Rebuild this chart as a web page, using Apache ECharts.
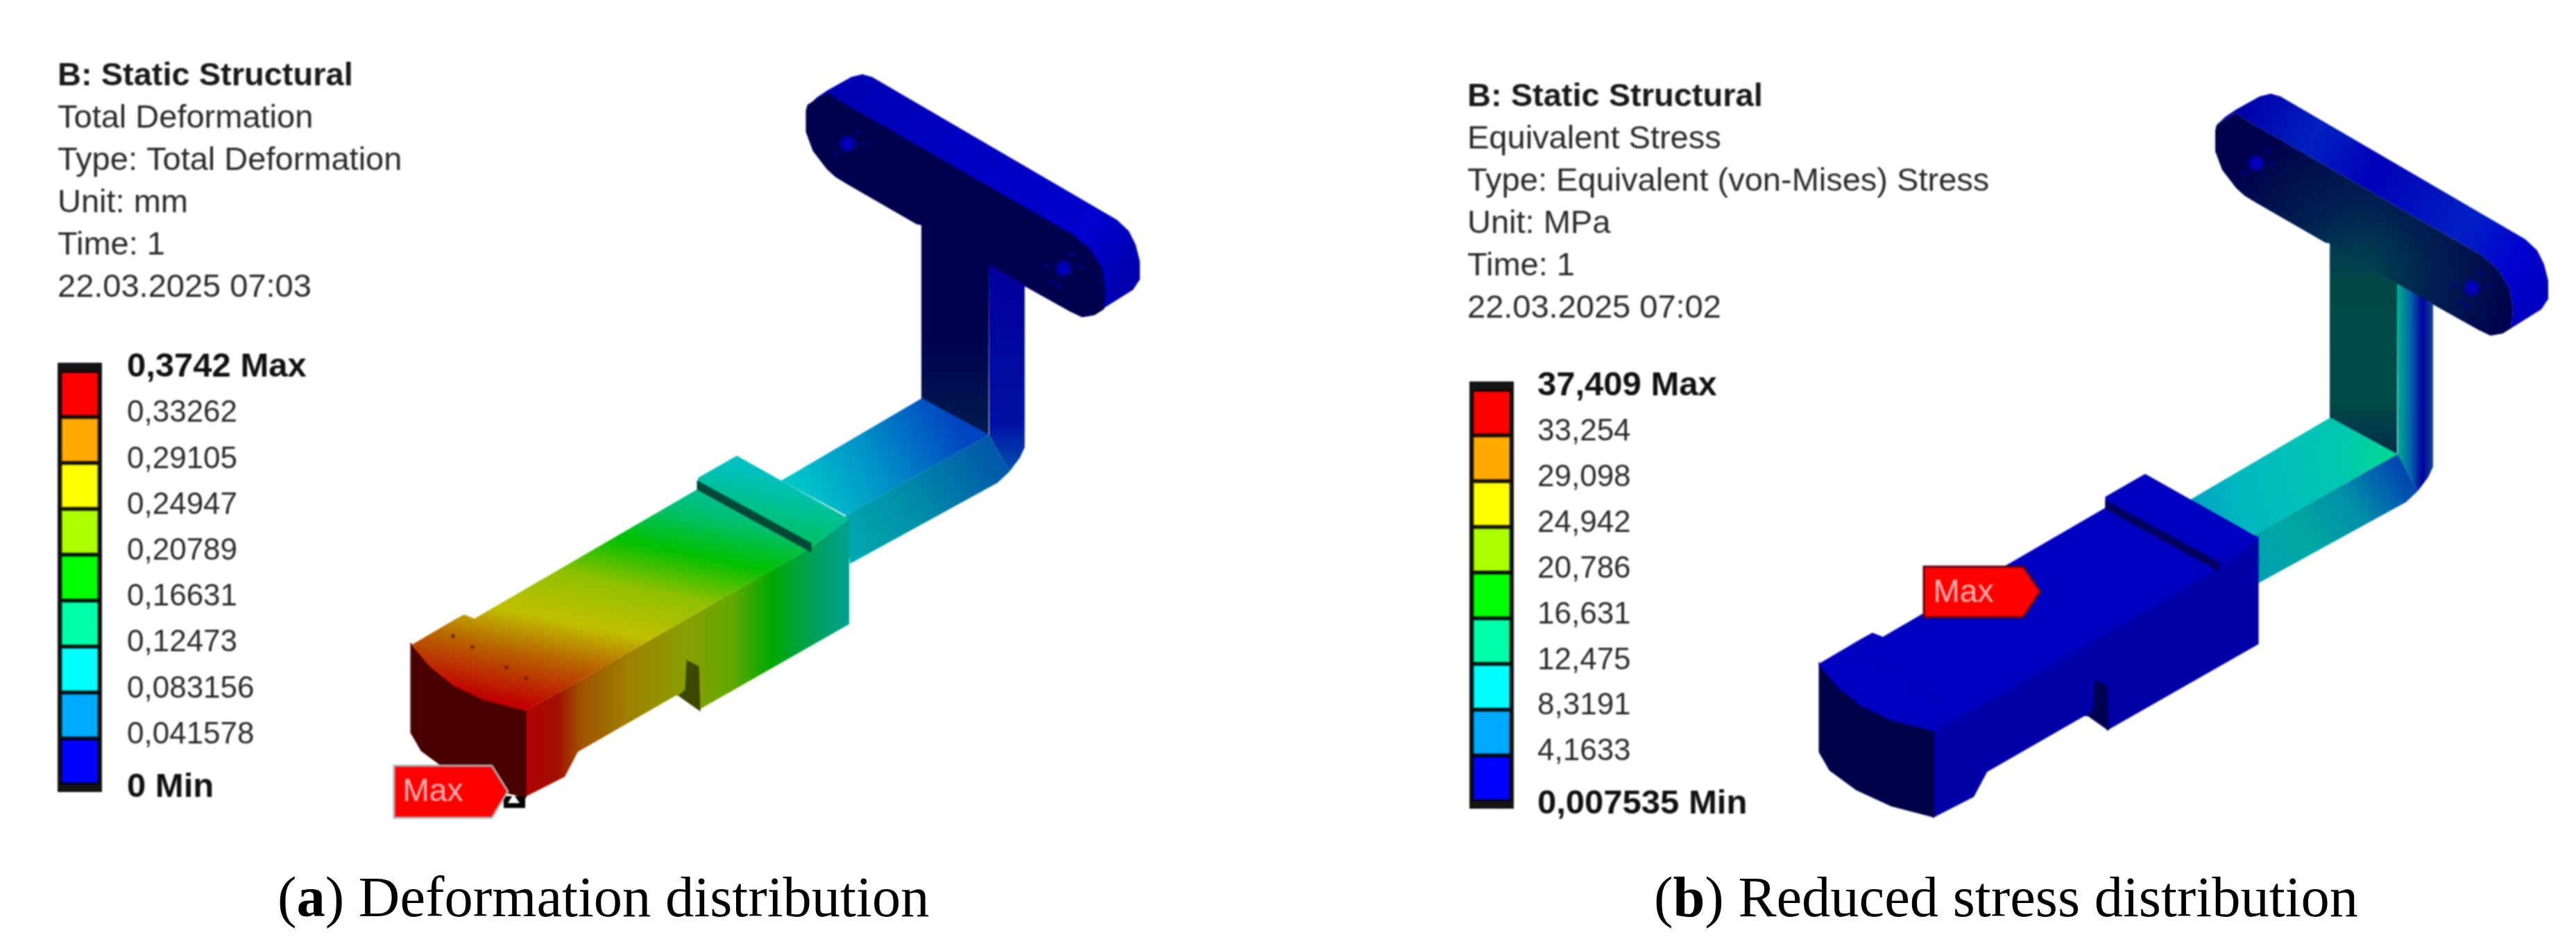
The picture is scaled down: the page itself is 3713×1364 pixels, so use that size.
<!DOCTYPE html>
<html>
<head>
    <meta charset="UTF-8">
    <title>Deformation and stress distribution</title>
    <script src="https://cdn.jsdelivr.net/npm/echarts@6/dist/echarts.min.js"></script>
    <style>
        html, body { margin: 0; background: #fff; }
        #chart, #captions { position: absolute; left: 0; top: 0; width: 3713px; height: 1364px; }
        /* the simulation screenshots are soft in the original, the captions are not */
        #chart { filter: blur(1.3px); }
    </style>
</head>
<body>
<div id="chart"></div>
<div id="captions"></div>
<script>
    // contour scale of each result
    const deformLevels = [0, 0.041578, 0.083156, 0.12473, 0.16631, 0.20789, 0.24947, 0.29105, 0.33262, 0.3742];
    const deformLabels = ['0 Min', '0,041578', '0,083156', '0,12473', '0,16631', '0,20789', '0,24947', '0,29105', '0,33262', '0,3742 Max'];
    const stressLevels = [0.007535, 4.1633, 8.3191, 12.475, 16.631, 20.786, 24.942, 29.098, 33.254, 37.409];
    const stressLabels = ['0,007535 Min', '4,1633', '8,3191', '12,475', '16,631', '20,786', '24,942', '29,098', '33,254', '37,409 Max'];
    const bandColors = ['#0000ff', '#00aaff', '#00ffff', '#00ffaa', '#00ff00', '#aaff00', '#ffff00', '#ffaa00', '#ff0000'];

    // part outline in model units (same for both panels)
    const barTop = [[1165, 152], [1178, 140], [1193, 130], [1227, 111], [1243, 107], [1257, 111], [1610, 317], [1627, 333], [1637, 353], [1643, 377], [1643, 403], [1633, 418], [1590, 445], [1592, 417], [1587, 387], [1570, 360], [1547, 340], [1207, 145], [1193, 135]];
    const barFront = [[1165, 152], [1193, 135], [1207, 145], [1547, 340], [1570, 360], [1587, 387], [1592, 417], [1590, 445], [1577, 453], [1560, 456], [1543, 448], [1425, 382], [1328, 323], [1322, 322], [1223, 265], [1205, 254], [1193, 243], [1173, 217], [1163, 190], [1163, 160]];
    const stemFront = [[1328, 322], [1425, 381], [1425, 627], [1328, 575]];
    const stemSide = [[1425, 381], [1477, 410], [1477, 645], [1470, 660], [1455, 680], [1426, 627]];
    const armTop = [[1329, 574], [1426, 627], [1219, 743], [1126, 693]];
    const armSide = [[1426, 627], [1455, 680], [1438, 696], [1225, 813], [1219, 743]];
    const blockSide = [[757, 1025], [829, 985], [1168, 790], [1224, 748], [1224, 900], [1008, 1023], [1006, 962], [991, 954], [989, 995], [980, 1003], [974, 1003], [833, 1084], [814, 1120], [757, 1149]];
    const notch = [[991, 954], [1006, 962], [1008, 1023], [980, 1003], [989, 995]];
    const frontFace = [[593, 930], [620, 962], [654, 989], [696, 1009], [757, 1025], [757, 1149], [696, 1133], [646, 1110], [608, 1082], [593, 1056]];
    const blockTop = [[593, 930], [654, 894], [669, 886], [684, 892], [694, 886], [1006, 705], [1006, 689], [1062, 657], [1126, 693], [1224, 748], [1168, 790], [829, 985], [757, 1025], [696, 1009], [654, 989], [620, 962]];
    const slot = [[1006, 695], [1168, 784], [1168, 794], [1006, 705]];
    const holes = [[1222, 207], [1533, 387]];
    const holeDots = [[1237, 190], [1245, 207], [1205, 222], [1545, 367], [1508, 383], [1557, 385], [1518, 407], [1527, 414]];
    const faceDots = [[653, 917], [681, 933], [730, 962], [758, 978]];
    const maxFlagA = [[568, 1104], [709, 1104], [732, 1141], [709, 1179], [568, 1179]];
    const maxFlagB = [[743, 789], [886, 789], [911, 825], [886, 862], [743, 862]];
    const maxProbeBox = [[726, 1148], [757, 1148], [757, 1165], [726, 1165]];
    const maxProbeMark = [[740, 1145], [749, 1158], [732, 1158]];
    const maxTextA = [[624, 1142]];
    const maxTextB = [[800, 827]];

    const fillsA = {
        barTop: {from: [1200, 110], to: [1640, 420], stops: [[0, '#0000b4'], [0.8, '#0000d0'], [1, '#0000a8']]},
        barFront: '#00004e',
        stemFront: {from: [1380, 480], to: [1380, 620], stops: [[0, '#00004e'], [1, '#001a50']]},
        stemSide: {from: [1450, 400], to: [1450, 680], stops: [[0, '#00009c'], [0.75, '#0010a4'], [1, '#0050b0']]},
        armTop: {from: [1370, 590], to: [1160, 710], stops: [[0, '#0044c0'], [0.55, '#0090c8'], [1, '#00c4c8']]},
        armSide: {from: [1430, 650], to: [1225, 790], stops: [[0, '#0058a8'], [0.6, '#0090a8'], [1, '#00a8b0']]},
        blockSide: {from: [757, 1000], to: [1224, 1000], stops: [[0, '#b00000'], [0.1, '#a01000'], [0.17, '#a05000'], [0.32, '#a08000'], [0.5, '#88a000'], [0.64, '#60a800'], [0.76, '#00a800'], [0.9, '#00a060'], [1, '#00a090']]},
        notch: '#3c4800',
        frontFace: '#480000',
        blockTop: {from: [900, 1048], to: [982, 657], stops: [[0, '#c00000'], [0.18, '#b86000'], [0.33, '#c0c000'], [0.5, '#90c000'], [0.66, '#00c000'], [0.81, '#00c070'], [1, '#00c0c0']]},
        slot: '#004838'
    };
    const fillsB = {
        barTop: {from: [1200, 130], to: [1640, 380], stops: [[0, '#0000a8'], [0.22, '#0020c0'], [0.42, '#0000b8'], [0.72, '#0020c4'], [0.9, '#0000d0'], [1, '#0000c0']]},
        barFront: {center: [1370, 370], r: 230, stops: [[0, '#004850'], [0.45, '#002050'], [1, '#00004c']]},
        stemFront: {from: [1380, 320], to: [1380, 620], stops: [[0, '#003850'], [0.2, '#004848'], [0.75, '#004c48'], [1, '#00304c']]},
        stemSide: {from: [1425, 500], to: [1477, 500], stops: [[0, '#00b090'], [0.4, '#0060a8'], [0.7, '#0000a0'], [1, '#104890']]},
        armTop: {center: [1420, 630], r: 330, stops: [[0, '#00d890'], [0.25, '#00c8b0'], [0.7, '#00b8c0'], [1, '#0098c4']]},
        armSide: {from: [1430, 650], to: [1225, 790], stops: [[0, '#0048b0'], [0.35, '#0090a8'], [0.7, '#00a8a0'], [1, '#00a0b0']]},
        blockSide: '#0000a8',
        notch: '#000050',
        frontFace: '#000048',
        blockTop: '#0000c0',
        slot: '#000060'
    };

    const faces = {barTop, barFront, stemFront, stemSide, armTop, armSide, blockSide, notch, frontFace, blockTop, slot};

    function toFill(api, fill) {
        if (typeof fill === 'string') {
            return fill;
        }
        const stops = fill.stops.map(function (s) {
            return {offset: s[0], color: s[1]};
        });
        if (fill.center) {
            const c = api.coord(fill.center);
            return new echarts.graphic.RadialGradient(c[0], c[1], fill.r, stops, true);
        }
        const a = api.coord(fill.from);
        const b = api.coord(fill.to);
        return new echarts.graphic.LinearGradient(a[0], a[1], b[0], b[1], stops, true);
    }

    function polygon(api, points, fill, stroke) {
        return {
            type: 'polygon',
            shape: {points: points.map(function (p) { return api.coord(p); })},
            style: {fill: toFill(api, fill), stroke: stroke || null, lineWidth: stroke ? 3 : 0}
        };
    }

    // draws one panel of the part through its own hidden axes
    function partSeries(fills, extras, index) {
        const names = Object.keys(faces);
        return {
            type: 'custom',
            xAxisIndex: index,
            yAxisIndex: index,
            coordinateSystem: 'cartesian2d',
            clip: false,
            silent: true,
            z: 2,
            data: [0],
            renderItem: function (params, api) {
                const children = names.map(function (n) {
                    return polygon(api, faces[n], fills[n], typeof fills[n] === 'string' ? fills[n] : null);
                });
                extras.forEach(function (e) {
                    children.push(polygon(api, e[0], e[1], e[2]));
                });
                return {type: 'group', children: children};
            }
        };
    }

    function dotSeries(points, size, color, index) {
        return {
            type: 'scatter', xAxisIndex: index, yAxisIndex: index, data: points, symbolSize: size,
            itemStyle: {color: color}, silent: true, z: 3
        };
    }

    function holeSeries(index) {
        return {
            type: 'scatter', xAxisIndex: index, yAxisIndex: index, data: holes, symbolSize: 32, silent: true, z: 3,
            itemStyle: {
                color: new echarts.graphic.RadialGradient(0.5, 0.5, 0.5, [
                    {offset: 0, color: '#0000e8'}, {offset: 0.55, color: '#0000c0'}, {offset: 1, color: 'rgba(0,0,80,0)'}
                ])
            }
        };
    }

    function maxTextSeries(points, index) {
        return {
            type: 'scatter', xAxisIndex: index, yAxisIndex: index, data: points, symbolSize: 1, silent: true, z: 5,
            itemStyle: {color: 'transparent'},
            label: {
                show: true, position: 'inside', formatter: 'Max', color: '#ffdede',
                fontFamily: 'Liberation Sans', fontSize: 46
            }
        };
    }

    // stacked colour bands of one contour scale
    function bandSeries(levels, index) {
        return bandColors.map(function (color, i) {
            return {
                type: 'bar', stack: 'scale' + index, xAxisIndex: index, yAxisIndex: index,
                data: [i === 0 ? levels[1] : levels[i + 1] - levels[i]],
                barWidth: 57, silent: true, z: 2,
                itemStyle: {color: color, borderColor: 'rgba(0,0,0,0.7)', borderWidth: 3}
            };
        });
    }

    function scaleAxis(grid, levels, labels, min, max, margin) {
        return {
            type: 'value', position: 'right', gridIndex: grid, min: min, max: max,
            axisLine: {show: false}, axisTick: {show: false}, splitLine: {show: false},
            axisLabel: {
                customValues: levels, margin: margin, color: '#2a2a2a', fontFamily: 'Liberation Sans', fontSize: 44,
                padding: [0, 0, 10, 0],
                formatter: function (value) {
                    const text = labels[levels.indexOf(value)];
                    if (text.indexOf('Min') >= 0) {
                        return '{min|' + text + '}';
                    }
                    return text.indexOf('Max') >= 0 ? '{b|' + text + '}' : text;
                },
                rich: {
                    b: {fontWeight: 'bold', color: '#111', fontFamily: 'Liberation Sans', fontSize: 49},
                    min: {fontWeight: 'bold', color: '#111', fontFamily: 'Liberation Sans', fontSize: 49, padding: [18, 0, 0, 0]}
                }
            }
        };
    }

    function modelX(i, max) { return {type: 'value', gridIndex: i, min: 0, max: max, show: false}; }
    function modelY(i, max) { return {type: 'value', gridIndex: i, min: 0, max: max, inverse: true, show: false}; }
    function scaleX(i) { return {type: 'category', gridIndex: i, data: ['scale'], show: false}; }

    function header(left, top, head, lines) {
        return {
            left: left, top: top, text: head, subtext: lines.join('\n'), padding: 0, itemGap: 7,
            textStyle: {fontFamily: 'Liberation Sans', fontSize: 47, fontWeight: 'bold', color: '#1a1a1a'},
            subtextStyle: {fontFamily: 'Liberation Sans', fontSize: 47, color: '#2a2a2a', lineHeight: 60.8}
        };
    }

    function caption(left, top, letter, text) {
        return {
            left: left, top: top, padding: 0,
            text: '({b|' + letter + '}) ' + text,
            textStyle: {
                fontFamily: 'Liberation Serif', fontSize: 82.5, fontWeight: 'normal', color: '#000',
                rich: {b: {fontFamily: 'Liberation Serif', fontSize: 82.5, fontWeight: 'bold', color: '#000'}}
            }
        };
    }

    const chart = echarts.init(document.getElementById('chart'));
    chart.setOption({
        animation: false,
        backgroundColor: '#fff',
        title: [
            header(83, 87, 'B: Static Structural', ['Total Deformation', 'Type: Total Deformation', 'Unit: mm', 'Time: 1', '22.03.2025 07:03']),
            header(2115, 117, 'B: Static Structural', ['Equivalent Stress', 'Type: Equivalent (von-Mises) Stress', 'Unit: MPa', 'Time: 1', '22.03.2025 07:02'])
        ],
        grid: [
            {left: 0, top: 0, width: 1856, height: 1364},
            {left: 2030, top: 28, width: 1683, height: 1336},
            {left: 83, top: 523, width: 64, height: 619, show: true, backgroundColor: '#141414', borderWidth: 0},
            {left: 2118, top: 550, width: 64, height: 616, show: true, backgroundColor: '#141414', borderWidth: 0}
        ],
        xAxis: [modelX(0, 1856), modelX(1, 1683), scaleX(2), scaleX(3)],
        yAxis: [
            modelY(0, 1364), modelY(1, 1336),
            scaleAxis(2, deformLevels, deformLabels, -0.0069, 0.3817, 36),
            scaleAxis(3, stressLevels, stressLabels, -0.68, 38.16, 34)
        ],
        series: [
            partSeries(fillsA, [[maxProbeBox, '#000'], [maxProbeMark, '#fff'], [maxFlagA, '#ff0000', '#b0b0b0']], 0),
            partSeries(fillsB, [[maxFlagB, '#ff0000', '#600010']], 1),
            holeSeries(0), holeSeries(1),
            dotSeries(holeDots, 7, '#000090', 0), dotSeries(holeDots, 7, '#000090', 1),
            dotSeries(faceDots, 6, '#6a2000', 0), dotSeries(faceDots, 6, '#0000a0', 1),
            maxTextSeries(maxTextA, 0), maxTextSeries(maxTextB, 1)
        ].concat(bandSeries(deformLevels, 2), bandSeries(stressLevels, 3))
    });

    const captions = echarts.init(document.getElementById('captions'));
    captions.setOption({
        animation: false,
        title: [
            caption(400, 1258, 'a', 'Deformation distribution'),
            caption(2384, 1258, 'b', 'Reduced stress distribution')
        ]
    });
</script>
</body>
</html>
